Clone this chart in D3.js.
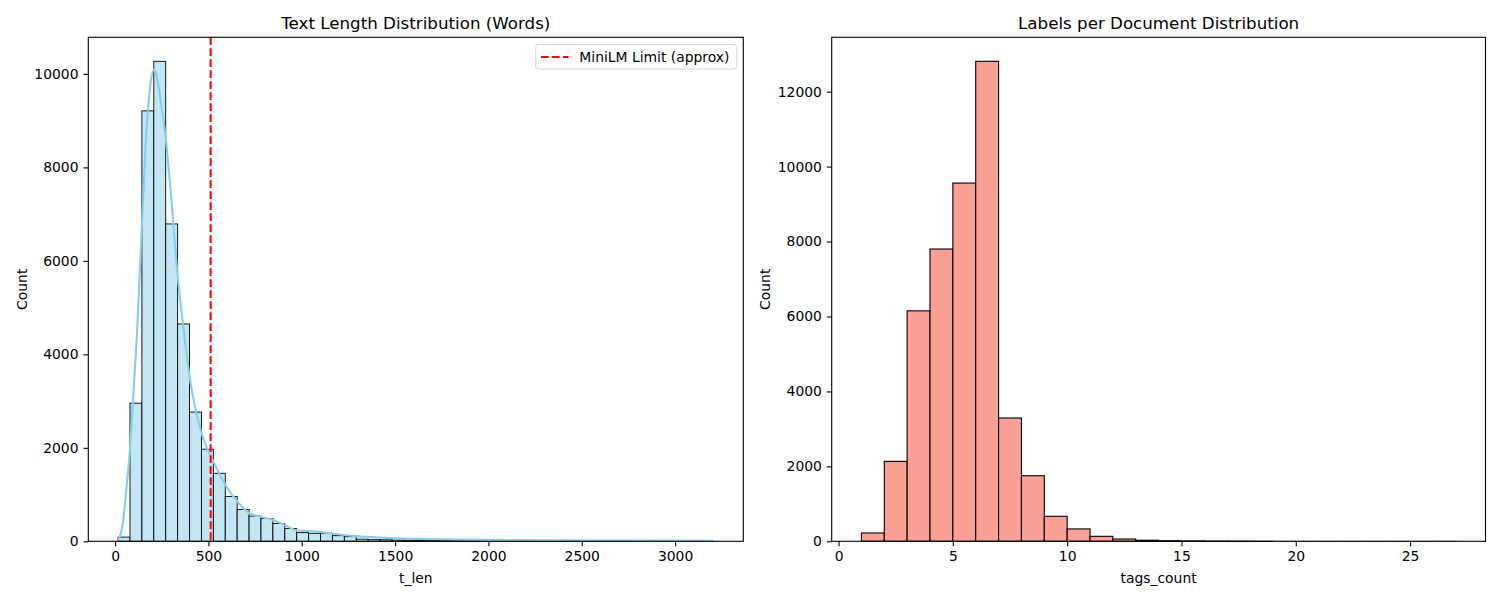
<!DOCTYPE html>
<html>
<head>
<meta charset="utf-8">
<script src="https://cdn.jsdelivr.net/npm/d3@7"></script>
<style>
body{margin:0;background:#fff;}
text{font-family:"DejaVu Sans",sans-serif;fill:#000;}
</style>
</head>
<body>
<div id="chart"></div>
<script>
// left: t_len histogram, 50 bins of equal width
var lenStart=16, lenBinW=63.8
var lenCounts=[90,2955,9210,10270,6790,4650,2765,1970,1455,960,
680,540,486,380,272,186,171,164,121,100,
45,35,32,25,22,20,18,16,14,12,
10,9,8,7,6,5,4,4,3,3,
2,2,2,1,1,1,1,1,0,1]
// kde curve (t_len, count)
var kdeX=[16,30,45,60,80,100,118,135,150,170,190,210,225,245,269,300,330,368,400,464,528,592,657,721,785,850,913,977,1073,1170,1288,1467,1700,2000,2300,2600,2900,3206]
var kdeY=[40,150,500,1100,2000,3300,4500,6000,7300,8900,9800,10100,9900,9400,8700,7400,5900,4500,3500,2300,1700,1200,840,600,520,450,340,230,210,160,110,70,45,30,22,18,15,12]
var limitX=512
var lenTicks=[0,500,1000,1500,2000,2500,3000]
var lenYTicks=[0,2000,4000,6000,8000,10000]

// right: tags_count histogram, bins of width 1
var tagStart=1
var tagCounts=[222,2133,6150,7800,9560,12810,3290,1750,667,330,133,61,28,16,10,6,4,2,0,0,0,0,0,0,0,1]
var tagTicks=[0,5,10,15,20,25]
var tagYTicks=[0,2000,4000,6000,8000,10000,12000]

var W=1500,H=600
var plotTop=37.3,plotBottom=541.3
var fs=13.9

var svg=d3.select("#chart").append("svg")
	.attr("width",W)
	.attr("height",H)

function panel(o){
	var x=d3.scaleLinear().domain(o.xdom).range([o.left,o.right])
	var y=d3.scaleLinear().domain([0,o.ymax]).range([plotBottom,plotTop])
	var g=svg.append("g")

	// empty bins still show their outline along the baseline, like matplotlib
	g.selectAll(".bar")
	 .data(o.bins)
	 .enter()
	 .append("rect")
	   .attr("x",function(d){return x(d.x0)})
	   .attr("y",function(d){return y(d.c)-(d.c?0:0.01)})
	   .attr("width",function(d){return x(d.x1)-x(d.x0)})
	   .attr("height",function(d){return Math.max(y(0)-y(d.c),0.01)})
	   .attr("fill",o.fill)
	   .attr("stroke",function(d){return d.c<2?"#999":"#000"})
	   .attr("stroke-width",o.sw)

	var xa=d3.axisBottom(x).tickValues(o.xticks).tickFormat(d3.format("d")).tickSize(4.9).tickSizeOuter(0).tickPadding(4.9)
	var ya=d3.axisLeft(y).tickValues(o.yticks).tickFormat(d3.format("d")).tickSize(4.9).tickSizeOuter(0).tickPadding(4.9)
	var gx=g.append("g").attr("transform","translate(0,"+plotBottom+")").call(xa)
	var gy=g.append("g").attr("transform","translate("+o.left+",0)").call(ya)
	;[gx,gy].forEach(function(a){
		a.select(".domain").remove()
		a.selectAll("line").attr("stroke","#000").attr("stroke-width",1.1)
		a.selectAll("text").attr("font-size",fs+"px").attr("font-family","DejaVu Sans").attr("fill","#000")
	})

	g.append("text")
	  .attr("x",(o.left+o.right)/2)
	  .attr("y",29)
	  .attr("text-anchor","middle")
	  .attr("font-size","16.7px")
	  .text(o.title)
	g.append("text")
	  .attr("x",(o.left+o.right)/2)
	  .attr("y",583)
	  .attr("text-anchor","middle")
	  .attr("font-size",fs+"px")
	  .text(o.xlabel)
	g.append("text")
	  .attr("transform","translate("+(o.left-61.8)+","+((plotTop+plotBottom)/2)+") rotate(-90)")
	  .attr("text-anchor","middle")
	  .attr("font-size",fs+"px")
	  .text("Count")
	return {g:g,x:x,y:y}
}

var lenBins=lenCounts.map(function(c,i){return {x0:lenStart+i*lenBinW,x1:lenStart+(i+1)*lenBinW,c:c}})
var lenSpan=lenCounts.length*lenBinW
var L=panel({
	left:88.3,right:743.3,
	xdom:[lenStart-0.05*lenSpan,lenStart+1.05*lenSpan],
	ymax:d3.max(lenCounts)*1.05,
	bins:lenBins,fill:"#c3e6f5",sw:0.9,
	xticks:lenTicks,yticks:lenYTicks,
	title:"Text Length Distribution (Words)",xlabel:"t_len"
})

var line=d3.line()
	.x(function(d,i){return L.x(kdeX[i])})
	.y(function(d){return L.y(d)})
	.curve(d3.curveMonotoneX)
L.g.append("path")
  .attr("d",line(kdeY))
  .attr("fill","none")
  .attr("stroke","#87ceeb")
  .attr("stroke-width",2.1)

L.g.append("line")
  .attr("x1",L.x(limitX)).attr("x2",L.x(limitX))
  .attr("y1",plotTop).attr("y2",plotBottom)
  .attr("stroke","red")
  .attr("stroke-width",2.1)
  .attr("stroke-dasharray","7.7,3.3")

// legend
var lg=L.g.append("g")
lg.append("rect")
  .attr("x",535.7).attr("y",44.5)
  .attr("width",201).attr("height",24.5)
  .attr("rx",3)
  .attr("fill","#fff").attr("fill-opacity",0.8)
  .attr("stroke","#d6d6d6")
lg.append("line")
  .attr("x1",541).attr("x2",568.5)
  .attr("y1",57).attr("y2",57)
  .attr("stroke","red").attr("stroke-width",2.1)
  .attr("stroke-dasharray","7.7,3.3")
lg.append("text")
  .attr("x",579.3).attr("y",61.8)
  .attr("font-size",fs+"px")
  .text("MiniLM Limit (approx)")

var tagBins=tagCounts.map(function(c,i){return {x0:tagStart+i,x1:tagStart+i+1,c:c}})
var tagSpan=tagCounts.length
panel({
	left:831.7,right:1485.5,
	xdom:[tagStart-0.05*tagSpan,tagStart+1.05*tagSpan],
	ymax:d3.max(tagCounts)*1.05,
	bins:tagBins,fill:"#fba095",sw:1.1,
	xticks:tagTicks,yticks:tagYTicks,
	title:"Labels per Document Distribution",xlabel:"tags_count"
})

// axes frames
;[[88.3,743.3],[831.7,1485.5]].forEach(function(p){
	svg.append("rect")
	  .attr("x",p[0]).attr("y",plotTop)
	  .attr("width",p[1]-p[0]).attr("height",plotBottom-plotTop)
	  .attr("fill","none")
	  .attr("stroke","#000")
	  .attr("stroke-width",1.1)
})
</script>
</body>
</html>
